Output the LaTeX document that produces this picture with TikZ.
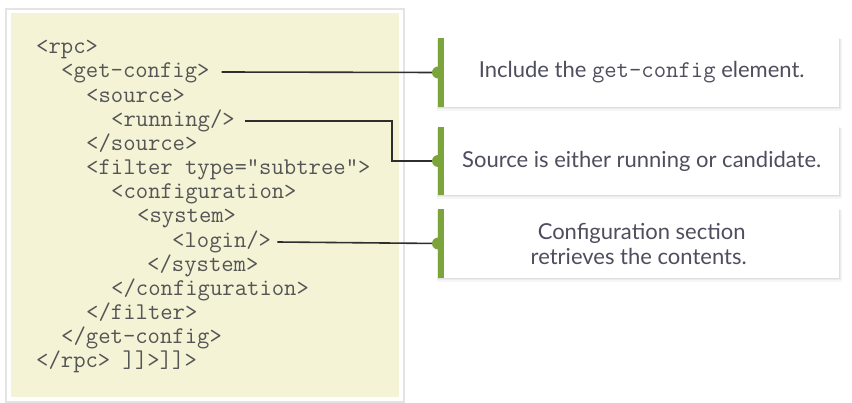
\documentclass[tikz,border=0pt]{standalone}
\usepackage{fontspec}
\setmainfont{Lato}
\definecolor{codebg}{HTML}{F5F3D6}
\definecolor{codefg}{HTML}{555555}
\definecolor{framec}{HTML}{E4E4E4}
\definecolor{leaf}{HTML}{7BA53A}
\definecolor{notefg}{HTML}{4E4E5E}
\definecolor{wire}{HTML}{2E2E2E}
\tikzset{
  codeline/.style={anchor=west, inner sep=0pt, text height=16pt, text depth=4pt,
    font=\ttfamily\fontsize{24}{24}\selectfont, text=codefg},
  notebox/.style={anchor=west, rectangle, fill=white, inner sep=0pt,
    minimum width=401pt, text=notefg, align=center,
    font=\fontsize{22}{25}\selectfont},
  wireline/.style={draw=wire, line width=1.6pt},
  notedot/.style={fill=leaf, draw=none},
}
\newcommand{\notecard}[4]{%
  % #1 name, #2 y center, #3 height, #4 text
  \fill[black, opacity=0.035] (437,#2-#3/2+1) rectangle (842,#2+#3/2+4);
  \fill[black, opacity=0.045] (437,#2-#3/2+1) rectangle (840.5,#2+#3/2+2.5);
  \fill[black, opacity=0.05] (438,#2-#3/2) rectangle (839.5,#2+#3/2+1.2);
  \node[notebox, minimum height=#3pt] (#1) at (438,#2) {\hspace*{6pt}#4};
  \fill[leaf] (#1.north west) rectangle ([xshift=6pt]#1.south west);
}
\begin{document}
\begin{tikzpicture}[x=1pt,y=-1pt]
\useasboundingbox (0,0) rectangle (852,403);
\fill[white] (0,0) rectangle (852,403);
% code panel
\draw[framec, line width=1.5pt, fill=white] (6,9) rectangle (404,402);
\fill[codebg] (11,13) rectangle (399,397);
\node[codeline] (l1)  at (36,48)  {<rpc>};
\node[codeline] (l2)  at (61,72)  {<get-config>};
\node[codeline] (l3)  at (86,97)  {<source>};
\node[codeline] (l4)  at (111,121) {<running/>};
\node[codeline] (l5)  at (86,145) {</source>};
\node[codeline] (l6)  at (86,169) {<filter type="subtree">};
\node[codeline] (l7)  at (111,193) {<configuration>};
\node[codeline] (l8)  at (137,217) {<system>};
\node[codeline] (l9)  at (172,242) {<login/>};
\node[codeline] (l10) at (147,266) {</system>};
\node[codeline] (l11) at (111,290) {</configuration>};
\node[codeline] (l12) at (86,314) {</filter>};
\node[codeline] (l13) at (61,338) {</get-config>};
\node[codeline] (l14) at (36,362) {</rpc> ]]>]]>};
% note cards
\notecard{n1}{72.5}{69}{Include the {\ttfamily\fontsize{24}{25}\selectfont get-config} element.}
\notecard{n2}{161}{68}{Source is either running or candidate.}
\notecard{n3}{243.5}{69}{Configuration section\\retrieves the contents.}
% connectors
\coordinate (k2) at (392,121);
\draw[wireline] ([xshift=12pt]l2.east) -- (n1.west);
\draw[wireline] ([xshift=10pt]l4.east) -- (k2) |- (n2.west);
\draw[wireline] ([xshift=6pt]l9.east) -- (n3.west);
\foreach \n in {n1,n2,n3} \fill[notedot] (\n.west) circle (6pt);
\end{tikzpicture}
\end{document}
